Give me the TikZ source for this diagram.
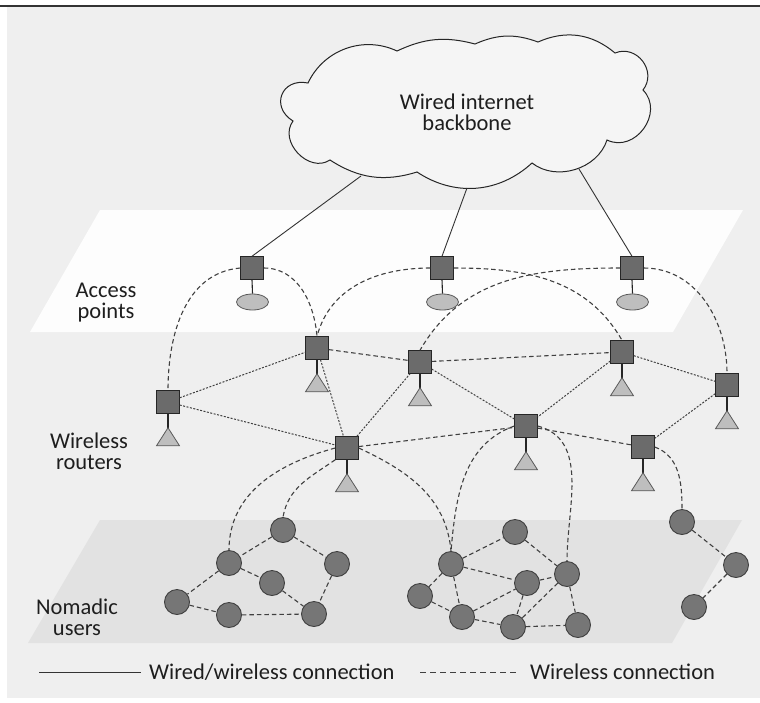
\documentclass[tikz,border=0pt]{standalone}
\usepackage{fontspec}
\setmainfont{Carlito}
\usetikzlibrary{shapes.geometric}

\definecolor{bgpanel}{HTML}{EFEFEF}
\definecolor{applane}{HTML}{FDFDFD}
\definecolor{userplane}{HTML}{E2E2E2}
\definecolor{boxgray}{HTML}{6B6B6B}
\definecolor{antgray}{HTML}{BEBEBE}
\definecolor{usergray}{HTML}{767676}
\definecolor{linkgray}{HTML}{404040}
\definecolor{inkgray}{HTML}{1E1E1E}

\begin{document}
\begin{tikzpicture}[x=1pt,y=1pt,
  every node/.style={text=inkgray},
  lbl/.style={font=\fontsize{22.5}{21}\selectfont, align=center, inner sep=0pt},
  apbox/.style={draw=black!85, fill=boxgray, minimum size=22.5pt, inner sep=0pt, line width=1pt},
  apdish/.style={draw=black!65, fill=antgray, ellipse, minimum width=32pt, minimum height=16pt, inner sep=0pt, line width=0.8pt},
  antenna/.style={draw=black!65, fill=antgray, line width=0.8pt, line join=miter},
  stem/.style={draw=black!85, line width=1.1pt},
  userdot/.style={circle, draw=black!75, fill=usergray, minimum size=25pt, inner sep=0pt, line width=0.9pt},
  wired/.style={draw=black!80, line width=0.9pt},
  wl/.style={draw=linkgray, line width=1.1pt, dash pattern=on 4.5pt off 3pt},
  wlfine/.style={draw=linkgray, line width=1pt, dash pattern=on 2pt off 1.5pt},
  cloudline/.style={draw=black!85, line width=1pt, fill=bgpanel!60!white}
]
\useasboundingbox (0,0) rectangle (760,-702);

% panel and frame
\fill[white] (0,0) rectangle (760,-702);
\fill[bgpanel] (7,-7) rectangle (760,-698);
\draw[black!80, line width=1.6pt] (0,-6) -- (760,-6);

% layer planes
\fill[applane] (100,-210) -- (743,-210) -- (673,-332) -- (30,-332) -- cycle;
\fill[userplane] (100,-520) -- (742,-520) -- (672,-643) -- (28,-643) -- cycle;

% backbone cloud
\draw[cloudline] (308,-83) to[bend left=45] (397,-51) to[bend left=20] (475,-44)
  to[bend left=22] (538,-42) to[bend left=32] (615,-53)
  to[bend left=75, looseness=1.3] (643,-90) to[bend left=80, looseness=1.3] (607,-140)
  to[bend left=55] (532,-163) to[bend left=38] (417,-172) to[bend left=25] (330,-160)
  to[bend left=80, looseness=1.2] (293,-121) to[bend left=80, looseness=1.7] (308,-83) -- cycle;
\node[lbl] (cloudtxt) at (467,-112) {Wired internet\\backbone};
\coordinate (w1) at (361,-176);
\coordinate (w2) at (467,-188);
\coordinate (w3) at (579,-169);

% layer labels
\node[lbl] (labAP) at (106,-303) {Access\\points};
\node[lbl] (labWR) at (89,-451) {Wireless\\routers};
\node[lbl] (labNU) at (77,-617) {Nomadic\\users};

% access points
\foreach \n/\x in {AP1/252, AP2/442, AP3/632}{
  \node[apbox] (\n) at (\x,-268) {};
  \node[apdish] (\n d) at (\x+0.5,-302) {};
  \draw[stem] (\n.south) -- (\n d.north);
}

% wireless routers
\foreach \n/\x/\y in {R1/168/402, R2/317/348, R3/347/448, R4/420/362,
                      R5/622/352, R6/727/385, R7/526/426, R8/643/447}{
  \node[apbox] (\n) at (\x,-\y) {};
  \draw[stem] (\n.south) -- ++(0,-14) coordinate (\n t);
  \draw[antenna] (\n t) -- ++(11.5,-18) -- ++(-23,0) -- cycle;
}

% nomadic users
\foreach \n/\x/\y in {U1/283/530, U2/229/563, U3/337/564, U4/272/583, U5/177/602,
                      U6/229/615, U7/314/614,
                      V1/515/532, V2/451/564, V3/527/583, V4/567/574, V5/420/596,
                      V6/462/617, V7/513/627, V8/578/625,
                      W1/682/522, W2/736/565, W3/694/607}{
  \node[userdot] (\n) at (\x,-\y) {};
}

% wired links from the backbone
\draw[wired] (w1) -- (AP1.north);
\draw[wired] (w2) -- (AP2.north);
\draw[wired] (w3) -- (AP3.north);

% access point to router links
\draw[wl] (AP1.west) to[out=185, in=90] (R1.north);
\draw[wl] (AP1.east) to[out=0, in=95] (R2.north);
\draw[wl] (AP2.west) to[out=180, in=75] (R2.north);
\draw[wl] (AP2.east) to[out=0, in=120] (R5.north);
\draw[wl] (AP3.west) to[out=180, in=60] (R4.north);
\draw[wl] (AP3.east) to[out=0, in=90] (R6.north);

% router mesh
\foreach \a/\b in {R1/R2, R1/R3, R2/R3, R3/R4, R4/R7, R5/R7, R5/R6, R6/R8}
  \draw[wlfine] (\a) -- (\b);
\foreach \a/\b in {R2/R4, R4/R5, R3/R7, R7/R8}
  \draw[wl] (\a) -- (\b);

% router to user links
\draw[wl] (R3.west) to[out=195, in=90] (U2.north);
\draw[wl] (R3.south west) to[out=215, in=80] (U1.north);
\draw[wl] (R3.east) to[out=-25, in=95] (V2.north);
\draw[wl] (R7.west) to[out=200, in=85] (V2.north);
\draw[wl] (R7.east) to[out=-15, in=90] (V4.north);
\draw[wl] (R8.east) to[out=-20, in=90] (W1.north);

% user mesh
\foreach \a/\b in {U1/U2, U1/U3, U2/U4, U2/U5, U4/U7, U3/U7, U5/U6, U6/U7,
                   V2/V1, V1/V4, V2/V3, V2/V5, V2/V6, V5/V6, V6/V3, V6/V7,
                   V3/V4, V3/V7, V4/V7, V7/V8, V4/V8,
                   W1/W2, W2/W3}
  \draw[wl] (\a) -- (\b);

% legend
\coordinate (lga) at (39,-672);
\coordinate (lgb) at (141,-672);
\coordinate (lgc) at (420,-672);
\coordinate (lgd) at (518,-672);
\draw[wired] (lga) -- (lgb);
\node[lbl, anchor=west] (lgwired) at (149,-672) {Wired/wireless connection};
\draw[wl, line width=1pt, dash pattern=on 6pt off 4pt] (lgc) -- (lgd);
\node[lbl, anchor=west] (lgwl) at (530,-672) {Wireless connection};
\end{tikzpicture}
\end{document}
